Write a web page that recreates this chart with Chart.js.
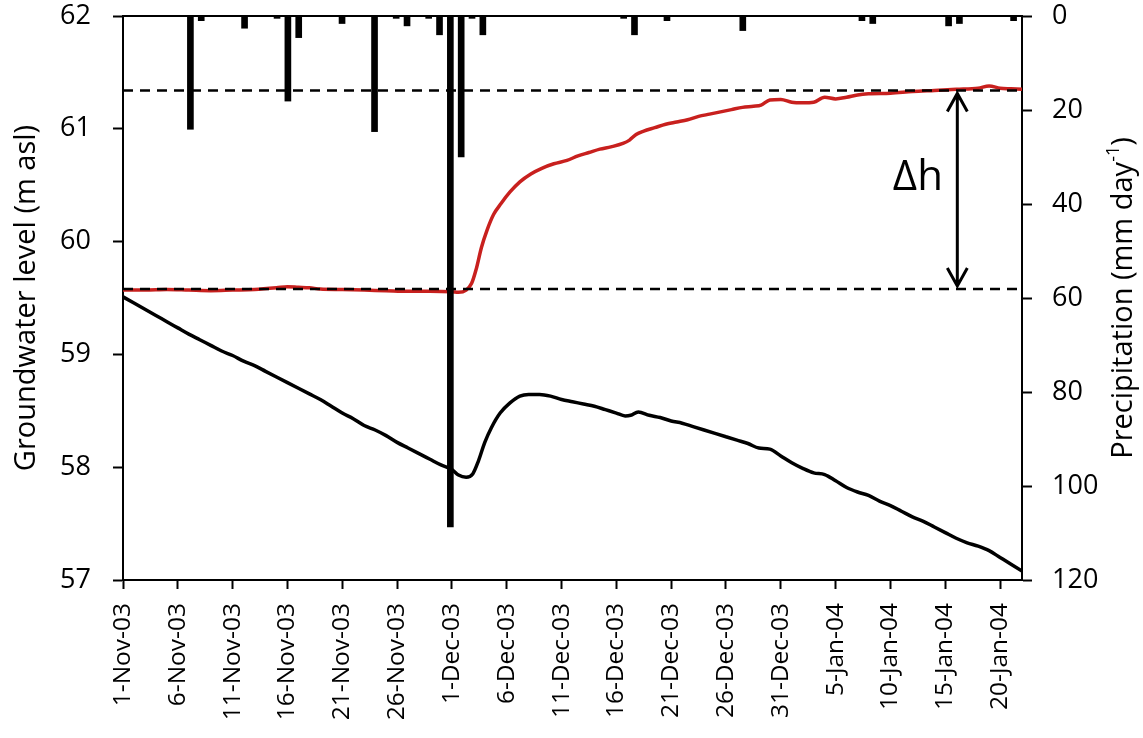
<!DOCTYPE html>
<html>
<head>
<meta charset="utf-8">
<script src="https://cdn.jsdelivr.net/npm/chart.js@4/dist/chart.umd.min.js"></script>
<style>
  html, body { margin: 0; padding: 0; background: #ffffff; }
  canvas { display: block; }
</style>
</head>
<body>
<canvas id="c" width="1143" height="738"></canvas>
<script>
// ---------------- DATA ----------------
// x tick labels (every 5 days from 1-Nov-03)
const tickLabels = ['1-Nov-03','6-Nov-03','11-Nov-03','16-Nov-03','21-Nov-03','26-Nov-03',
  '1-Dec-03','6-Dec-03','11-Dec-03','16-Dec-03','21-Dec-03','26-Dec-03','31-Dec-03',
  '5-Jan-04','10-Jan-04','15-Jan-04','20-Jan-04'];

// daily precipitation (mm/day), 1-Nov-03 .. 22-Jan-04 (83 days)
const precip = [
  0,0,0,0,0,0,24.1,1.0,0,0,
  0,2.6,0,0,0.5,18.1,4.6,0,0,0,
  1.6,0,0,24.6,0,0.5,2.1,0,0.5,4.0,
  108.7,30.0,0.5,4.0,0,0,0,0,0,0,
  0,0,0,0,0,0,0.5,4.0,0,0,
  1.0,0,0,0,0,0,0,3.1,0,0,
  0,0,0,0,0,0,0,0,1.0,1.6,
  0,0,0,0,0,0,2.1,1.6,0,0,
  0,0,1.0
];
const precipDays = precip.map((_, i) => 'd' + i);

// groundwater level, black well (days since 1-Nov-03, m asl)
const blackDays = [0,1,2,3,4,5,6,7,8,9,10,11,12,13,14,15,16,17,18,19,20,21,22,23,24,25,26,27,28,29,30,
  30.6,31.3,31.9,32.4,33,33.6,34.4,35.3,36.2,37,38,39,40,41,42,43,44,45,45.8,46.3,47,48,49,50,
  51,52,53,54,55,56,57,58,59,60,61,62,63,64,65,66,67,68,69,70,71,72,73,74,75,76,77,78,79,80,81,82];
const blackLevel = [59.51,59.455,59.40,59.345,59.29,59.235,59.18,59.13,59.08,59.03,58.99,58.94,58.90,58.85,58.80,
  58.75,58.70,58.65,58.60,58.54,58.48,58.43,58.37,58.33,58.28,58.22,58.17,58.12,58.07,58.02,57.98,
  57.93,57.91,57.94,58.05,58.22,58.35,58.48,58.57,58.63,58.645,58.645,58.63,58.60,58.58,58.56,58.54,
  58.51,58.48,58.455,58.46,58.49,58.46,58.44,58.41,58.39,58.36,58.33,58.30,58.27,58.24,58.21,58.17,
  58.16,58.10,58.04,57.99,57.95,57.935,57.88,57.82,57.78,57.75,57.70,57.66,57.61,57.56,57.52,57.47,
  57.42,57.37,57.33,57.30,57.26,57.20,57.14,57.08];

// groundwater level, red well
const redDays = [0,2,4,6,8,10,12,14,15,16,17,18,20,22,24,26,28,30,30.6,31.3,31.8,32.2,32.7,33.2,33.8,
  34.5,35.3,36.2,37.2,38.2,39.3,40.5,41.5,42.5,43.5,44.5,45.6,46.2,46.8,47.5,48.5,49.5,50.5,51.5,
  52.5,53.5,54.5,55.5,56.5,57.5,58.2,59,60,61,62,63,64,65,66,67,68,70,72,74,76,78,79,80,81,82];
const redLevel = [59.57,59.57,59.575,59.57,59.565,59.57,59.575,59.59,59.60,59.595,59.59,59.58,59.575,
  59.57,59.565,59.56,59.56,59.555,59.55,59.57,59.63,59.75,59.95,60.10,60.24,60.34,60.44,60.53,60.60,
  60.65,60.69,60.72,60.76,60.79,60.82,60.84,60.87,60.90,60.95,60.98,61.01,61.04,61.06,61.08,61.11,
  61.13,61.15,61.17,61.19,61.20,61.21,61.255,61.26,61.235,61.23,61.235,61.28,61.265,61.28,61.30,
  61.31,61.315,61.33,61.34,61.35,61.36,61.38,61.36,61.355,61.35];

// reference levels (dashed) and delta-h annotation
const levelAfter = 61.34;
const levelBefore = 59.58;
const arrowDay = 76.1;
const labelDay = 72.5;
const labelLevel = 60.56;

// ---------------- CHART ----------------
const FONT = '"Open Sans", "Noto Sans", sans-serif';
const toXY = (xs, ys) => xs.map((d, i) => ({ x: d, y: ys[i] }));
const noPad = s => { s.paddingTop = 0; s.paddingBottom = 0; };

const annot = {
  id: 'annot',
  afterDatasetsDraw(chart) {
    const { ctx, scales: { x, y, y2 }, chartArea } = chart;
    const ax = x.getPixelForValue(arrowDay);
    const t = y.getPixelForValue(levelAfter);
    const b = y.getPixelForValue(levelBefore);
    ctx.save();
    ctx.strokeStyle = '#000';
    ctx.lineWidth = 3;
    ctx.beginPath();
    ctx.moveTo(ax, t + 3); ctx.lineTo(ax, b - 3);
    ctx.moveTo(ax - 10, t + 21); ctx.lineTo(ax, t + 3); ctx.lineTo(ax + 10, t + 21);
    ctx.moveTo(ax - 10, b - 21); ctx.lineTo(ax, b - 3); ctx.lineTo(ax + 10, b - 21);
    ctx.stroke();
    ctx.fillStyle = '#000';
    ctx.font = '42px ' + FONT;
    ctx.textAlign = 'center';
    ctx.textBaseline = 'middle';
    ctx.fillText('Δh', x.getPixelForValue(labelDay), y.getPixelForValue(labelLevel));
    ctx.restore();

    // right axis title (reads bottom-to-top)
    ctx.save();
    const xc = y2.right - 19;
    const yc = (chartArea.top + chartArea.bottom) / 2;
    ctx.translate(xc, yc);
    ctx.rotate(-Math.PI / 2);
    ctx.fillStyle = '#000';
    ctx.textBaseline = 'middle';
    ctx.textAlign = 'left';
    const mainFont = '29px ' + FONT, supFont = '18px ' + FONT;
    const p1 = 'Precipitation (mm day', p2 = '-1', p3 = ')';
    ctx.font = mainFont; const w1 = ctx.measureText(p1).width; const w3 = ctx.measureText(p3).width;
    ctx.font = supFont; const w2 = ctx.measureText(p2).width;
    let sx = -(w1 + w2 + w3) / 2;
    ctx.font = mainFont; ctx.fillText(p1, sx, 0); sx += w1;
    ctx.font = supFont; ctx.fillText(p2, sx, -10); sx += w2;
    ctx.font = mainFont; ctx.fillText(p3, sx, 0);
    ctx.restore();
  }
};

new Chart(document.getElementById('c'), {
  data: {
    labels: precipDays,
    datasets: [
      {
        type: 'bar', label: 'Precipitation', data: precip,
        xAxisID: 'xb', yAxisID: 'y2',
        backgroundColor: '#000', borderWidth: 0, barThickness: 6, order: 0
      },
      {
        type: 'line', label: 'Red well', data: toXY(redDays, redLevel),
        xAxisID: 'x', yAxisID: 'y',
        borderColor: '#c8201e', borderWidth: 3.5, pointRadius: 0,
        cubicInterpolationMode: 'monotone', order: 2
      },
      {
        type: 'line', label: 'Black well', data: toXY(blackDays, blackLevel),
        xAxisID: 'x', yAxisID: 'y',
        borderColor: '#000', borderWidth: 3.5, pointRadius: 0,
        cubicInterpolationMode: 'monotone', order: 3
      },
      {
        type: 'line', label: 'After', data: [{ x: 0, y: levelAfter }, { x: 82, y: levelAfter }],
        xAxisID: 'x', yAxisID: 'y',
        borderColor: '#000', borderWidth: 2.5, borderDash: [10, 7], pointRadius: 0, order: 1
      },
      {
        type: 'line', label: 'Before', data: [{ x: 0, y: levelBefore }, { x: 82, y: levelBefore }],
        xAxisID: 'x', yAxisID: 'y',
        borderColor: '#000', borderWidth: 2.5, borderDash: [10, 7], pointRadius: 0, order: 1
      }
    ]
  },
  options: {
    responsive: false,
    animation: false,
    events: [],
    layout: { padding: { top: 16, left: 0, right: 0, bottom: 0 } },
    plugins: { legend: { display: false }, tooltip: { enabled: false } },
    scales: {
      x: {
        type: 'linear', position: 'bottom', min: 0, max: 82,
        afterBuildTicks: s => { s.ticks = tickLabels.map((_, i) => ({ value: i * 5 })); },
        ticks: {
          stepSize: 5, autoSkip: false, maxRotation: 90, minRotation: 90,
          color: '#000', font: { size: 24.5, family: FONT }, padding: 14,
          callback: v => tickLabels[Math.round(v / 5)]
        },
        grid: { drawOnChartArea: false, tickLength: 9, tickColor: '#000', tickWidth: 2 },
        border: { color: '#000', width: 2 },
        afterFit: s => { s.height = 158; }
      },
      xb: {
        type: 'category', position: 'top', offset: true,
        ticks: { display: false },
        grid: { display: false },
        border: { display: true, color: '#000', width: 2 },
        afterFit: s => { s.height = 0; s.paddingLeft = 0; s.paddingRight = 0; }
      },
      y: {
        type: 'linear', position: 'left', min: 57, max: 62,
        ticks: { stepSize: 1, color: '#000', font: { size: 27, family: FONT }, padding: 22 },
        grid: { drawOnChartArea: false, tickLength: 10, tickColor: '#000', tickWidth: 2 },
        border: { color: '#000', width: 2 },
        title: {
          display: true, text: 'Groundwater level (m asl)', color: '#000',
          font: { size: 29, family: FONT }, padding: { top: 9, bottom: 0 }
        },
        afterFit: s => { s.width = 123; noPad(s); }
      },
      y2: {
        type: 'linear', position: 'right', min: 0, max: 120, reverse: true,
        ticks: { stepSize: 20, color: '#000', font: { size: 27, family: FONT }, padding: 20 },
        grid: { drawOnChartArea: false, tickLength: 10, tickColor: '#000', tickWidth: 2 },
        border: { color: '#000', width: 2 },
        afterFit: s => { s.width = 121; noPad(s); }
      }
    }
  },
  plugins: [annot]
});
</script>
</body>
</html>
